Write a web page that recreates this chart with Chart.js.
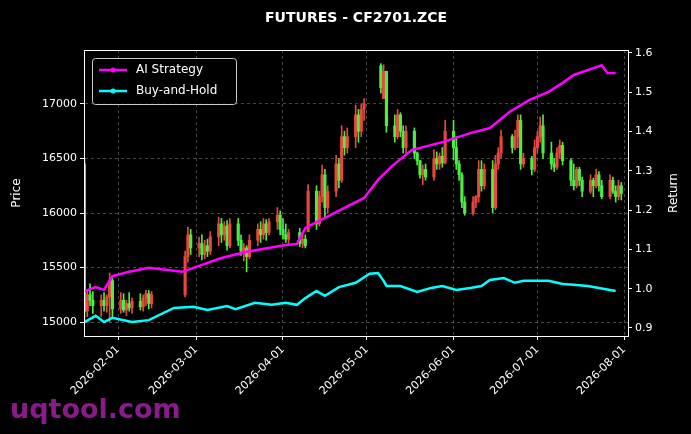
<!DOCTYPE html>
<html><head><meta charset="utf-8">
<script src="https://cdn.jsdelivr.net/npm/chart.js@4"></script>
<style>html,body{margin:0;padding:0;background:#000;}#w{width:691px;height:434px;}</style>
</head><body><div id="w"><canvas id="c"></canvas></div>
<script>
const YEAR = 2026;
const dates = ['01-20','01-21','01-22','01-23','01-26','01-27','01-28','01-29','01-30',
'02-02','02-03','02-04','02-05','02-06','02-09','02-10','02-11','02-12','02-13','02-25','02-26','02-27',
'03-02','03-03','03-04','03-05','03-06','03-09','03-10','03-11','03-12','03-13','03-16','03-17','03-18','03-19','03-20','03-23','03-24','03-25','03-26','03-27','03-30','03-31',
'04-01','04-02','04-03','04-07','04-08','04-09','04-10','04-13','04-14','04-15','04-16','04-17','04-20','04-21','04-22','04-23','04-24','04-27','04-28','04-29','04-30',
'05-06','05-07','05-08','05-11','05-12','05-13','05-14','05-15','05-18','05-19','05-20','05-21','05-22','05-25','05-26','05-27','05-28','05-29',
'06-01','06-02','06-03','06-04','06-05','06-08','06-09','06-10','06-11','06-12','06-15','06-16','06-17','06-18','06-22','06-23','06-24','06-25','06-26','06-29','06-30',
'07-01','07-02','07-03','07-06','07-07','07-08','07-09','07-10','07-13','07-14','07-15','07-16','07-17','07-20','07-21','07-22','07-23','07-24','07-27','07-28','07-29','07-30','07-31'];
const open = [16450,15100,15250,15200,15150,15200,15150,15230,15380,
15120,15200,15110,15170,15130,15190,15140,15220,15260,15170,15250,15600,15800,
15680,15720,15620,15700,15650,15780,15900,15800,15880,15700,15900,15750,15650,15680,15600,15750,15850,15800,15900,15820,15920,15980,
15850,15800,15760,15820,15720,15760,15830,16200,15900,16150,16350,16050,16200,16450,16300,16700,16600,16700,16900,16750,16950,
17350,17050,17300,16800,16700,16900,16750,16600,16750,16550,16480,16350,16400,16330,16500,16450,16520,16460,
16750,16600,16450,16350,16100,16000,16100,16150,16400,16250,16400,16050,16450,16550,16700,16600,16700,16850,16450,16500,16400,
16600,16700,16800,16550,16450,16420,16550,16620,16480,16300,16250,16400,16300,16200,16300,16250,16350,16250,16150,16300,16200,16150,16250];
const high = [16500,15300,15350,15280,15250,15270,15250,15450,15420,
15270,15260,15200,15270,15220,15260,15250,15290,15290,15280,15650,15870,15850,
15780,15800,15750,15760,15830,15960,15950,15920,15930,15950,15950,15800,15720,15700,15800,15900,15920,15950,15940,15950,16050,16020,
15950,15900,15850,15860,15800,15800,16260,16250,16200,16440,16400,16250,16530,16500,16800,16750,16780,16990,16950,17000,17050,
17370,17360,17300,16900,16950,16920,16800,16800,16780,16560,16480,16440,16450,16580,16560,16550,16600,16850,
16850,16700,16480,16370,16150,16150,16160,16480,16480,16450,16480,16530,16600,16760,16720,16760,16900,16900,16550,16520,16670,
16750,16880,16900,16650,16500,16600,16670,16650,16500,16450,16420,16420,16330,16350,16320,16400,16380,16300,16350,16330,16250,16300,16280];
const low = [15020,15050,15150,15080,15050,15100,15090,15000,15050,
15080,15090,15060,15100,15080,15110,15100,15150,15120,15130,15230,15550,15620,
15600,15570,15580,15600,15620,15700,15730,15750,15660,15680,15700,15610,15560,15460,15580,15700,15730,15760,15750,15800,15850,15800,
15760,15730,15700,15690,15680,15680,15830,15850,15880,16100,15950,16000,16150,16230,16280,16530,16550,16600,16650,16700,16850,
17100,17050,16740,16650,16680,16700,16550,16530,16500,16440,16320,16260,16300,16300,16400,16400,16420,16450,
16490,16400,16300,16050,15980,15980,16050,16100,16200,16220,16000,16030,16400,16500,16550,16580,16600,16400,16420,16350,16380,
16550,16650,16500,16400,16380,16400,16500,16440,16250,16210,16230,16250,16150,16180,16150,16230,16200,16130,16130,16180,16100,16120,16120];
const close = [15100,15250,15200,15150,15200,15150,15230,15380,15120,
15200,15110,15170,15130,15190,15140,15220,15260,15170,15250,15600,15800,15680,
15720,15620,15700,15650,15780,15900,15800,15880,15700,15900,15750,15650,15680,15600,15750,15850,15800,15900,15820,15920,15980,15850,
15800,15760,15820,15720,15760,15700,16200,15900,16150,16350,16050,16200,16450,16300,16700,16600,16700,16900,16750,16950,17000,
17150,17300,16800,16700,16900,16750,16600,16750,16550,16480,16350,16400,16330,16500,16450,16520,16460,16750,
16600,16450,16350,16100,16000,16100,16150,16400,16250,16400,16050,16450,16550,16700,16600,16700,16850,16450,16500,16400,16600,
16700,16800,16550,16450,16420,16550,16620,16480,16300,16250,16400,16300,16200,16300,16250,16350,16250,16150,16300,16200,16150,16250,16180];
const aiDates = ['01-20','01-24','01-27','01-30','02-05','02-12','02-24','03-02','03-10','03-19','04-02','04-06','04-09','04-20','04-30','05-05','05-10','05-17','05-28','06-07','06-14','06-21','06-28','07-05','07-10','07-14','07-24','07-26','07-29'];
const aiValues = [0.994,1.004,0.997,1.032,1.043,1.053,1.043,1.058,1.078,1.094,1.111,1.114,1.155,1.195,1.231,1.277,1.312,1.353,1.373,1.396,1.409,1.450,1.480,1.501,1.524,1.544,1.569,1.549,1.549];
const bhDates = ['01-20','01-24','01-27','01-30','02-06','02-12','02-21','02-28','03-05','03-12','03-15','03-22','03-28','04-02','04-06','04-09','04-13','04-16','04-21','04-27','05-02','05-05','05-07','05-08','05-13','05-19','05-24','05-28','06-02','06-07','06-11','06-14','06-19','06-23','06-26','06-30','07-05','07-10','07-14','07-19','07-25','07-29'];
const bhValues = [0.915,0.931,0.915,0.926,0.915,0.920,0.951,0.954,0.946,0.956,0.948,0.964,0.959,0.964,0.959,0.976,0.994,0.982,1.004,1.015,1.038,1.040,1.020,1.007,1.007,0.992,1.002,1.007,0.997,1.002,1.007,1.022,1.027,1.015,1.020,1.020,1.020,1.012,1.010,1.007,0.999,0.994];
const priceTicks = [15000,15500,16000,16500,17000];
const returnTicks = [0.9,1.0,1.1,1.2,1.3,1.4,1.5,1.6];
const monthTicks = ['02-01','03-01','04-01','05-01','06-01','07-01','08-01'];

const dayNum = s => { const [m,d] = s.split('-').map(Number); return (Date.UTC(YEAR,m-1,d)-Date.UTC(YEAR,0,1))/864e5; };
const UP='#e8493c', DN='#4ded46';
const cols = open.map((o,i)=> close[i]>=o ? UP : DN);
const wick = dates.map((d,i)=>({x:dayNum(d), y:[low[i],high[i]]}));
const body = dates.map((d,i)=>({x:dayNum(d), y:[Math.min(open[i],close[i]), Math.max(open[i],close[i])+ (open[i]===close[i]?5:0)]}));
const ai = aiDates.map((d,i)=>({x:dayNum(d), y:aiValues[i]}));
const bh = bhDates.map((d,i)=>({x:dayNum(d), y:bhValues[i]}));
const tickFont = {family:'DejaVu Sans', size:11};
const monthNum = monthTicks.map(dayNum);

const deco = {
  id:'deco',
  afterDraw(ch){
    const c=ch.ctx, a=ch.chartArea;
    c.save();
    c.strokeStyle='#fff'; c.lineWidth=1;
    c.strokeRect(a.left+0.5,a.top+0.5,a.right-a.left,a.bottom-a.top);
    c.fillStyle='#fff'; c.font='bold 14px "DejaVu Sans"'; c.textAlign='center'; c.textBaseline='middle';
    c.fillText('FUTURES - CF2701.ZCE',(a.left+a.right)/2,18);
    c.font='12px "DejaVu Sans"';
    c.save(); c.translate(17,(a.top+a.bottom)/2); c.rotate(-Math.PI/2); c.fillText('Price',0,0); c.restore();
    c.save(); c.translate(674,(a.top+a.bottom)/2); c.rotate(-Math.PI/2); c.fillText('Return',0,0); c.restore();
    const lx=92, ly=58, lw=144, lh=46;
    c.fillStyle='rgba(0,0,0,0.8)'; c.fillRect(lx,ly,lw,lh);
    c.strokeStyle='#ccc'; c.lineWidth=1; c.beginPath(); c.roundRect(lx+0.5,ly+0.5,lw,lh,3); c.stroke();
    const items=[['AI Strategy','#ff00ff'],['Buy-and-Hold','#00ffff']];
    items.forEach((it,i)=>{
      const y=ly+12+i*21;
      c.strokeStyle=it[1]; c.lineWidth=2.5; c.beginPath(); c.moveTo(lx+7,y); c.lineTo(lx+35,y); c.stroke();
      c.fillStyle=it[1]; c.beginPath(); c.arc(lx+21,y,2.5,0,Math.PI*2); c.fill();
      c.fillStyle='#fff'; c.textAlign='left'; c.font='12px "DejaVu Sans"'; c.fillText(it[0],lx+44,y);
    });
    c.fillStyle='#8b1a8b'; c.font='bold 27px "DejaVu Sans"'; c.textAlign='left'; c.textBaseline='alphabetic';
    c.fillText('uqtool.com',10,418);
    c.restore();
  }
};

new Chart(document.getElementById('c'),{
  data:{datasets:[
    {type:'bar', data:wick, backgroundColor:cols, barThickness:1, grouped:false, yAxisID:'y', order:3},
    {type:'bar', data:body, backgroundColor:cols, barThickness:2.5, grouped:false, yAxisID:'y', order:2},
    {type:'line', data:ai, borderColor:'#ff00ff', borderWidth:2.5, pointRadius:0, yAxisID:'y1', order:1},
    {type:'line', data:bh, borderColor:'#00ffff', borderWidth:2.5, pointRadius:0, yAxisID:'y1', order:1}
  ]},
  options:{
    responsive:true, maintainAspectRatio:false, animation:false,
    layout:{padding:{top:50,left:0,right:0,bottom:0}},
    plugins:{legend:{display:false}, tooltip:{enabled:false}},
    scales:{
      x:{type:'linear', min:18.84, max:213.4, offset:false,
        afterBuildTicks:s=>{s.ticks=monthNum.map(v=>({value:v}));},
        ticks:{color:'#fff', font:tickFont, maxRotation:45, minRotation:45, autoSkip:false,
          callback:(v)=>{const i=monthNum.indexOf(v); return i>=0? YEAR+'-'+monthTicks[i]:'';}},
        grid:{offset:false, color:'rgba(255,255,255,0.28)', tickColor:'#fff', tickLength:4},
        border:{color:'#fff', dash:[3,3]},
        afterFit:s=>{s.height=98;}
      },
      y:{type:'linear', position:'left', min:14872, max:17495,
        afterBuildTicks:s=>{s.ticks=priceTicks.map(v=>({value:v}));},
        ticks:{color:'#fff', font:tickFont, callback:v=>String(v)},
        grid:{color:'rgba(255,255,255,0.28)', tickColor:'#fff', tickLength:4},
        border:{color:'#fff', dash:[3,3]},
        afterFit:s=>{s.width=84;}
      },
      y1:{type:'linear', position:'right', min:0.8796, max:1.6076,
        afterBuildTicks:s=>{s.ticks=returnTicks.map(v=>({value:v}));},
        ticks:{color:'#fff', font:tickFont, callback:v=>v.toFixed(1)},
        grid:{drawOnChartArea:false, tickColor:'#fff', tickLength:4},
        border:{color:'#fff'},
        afterFit:s=>{s.width=63;}
      }
    }
  },
  plugins:[deco]
});
</script></body></html>
